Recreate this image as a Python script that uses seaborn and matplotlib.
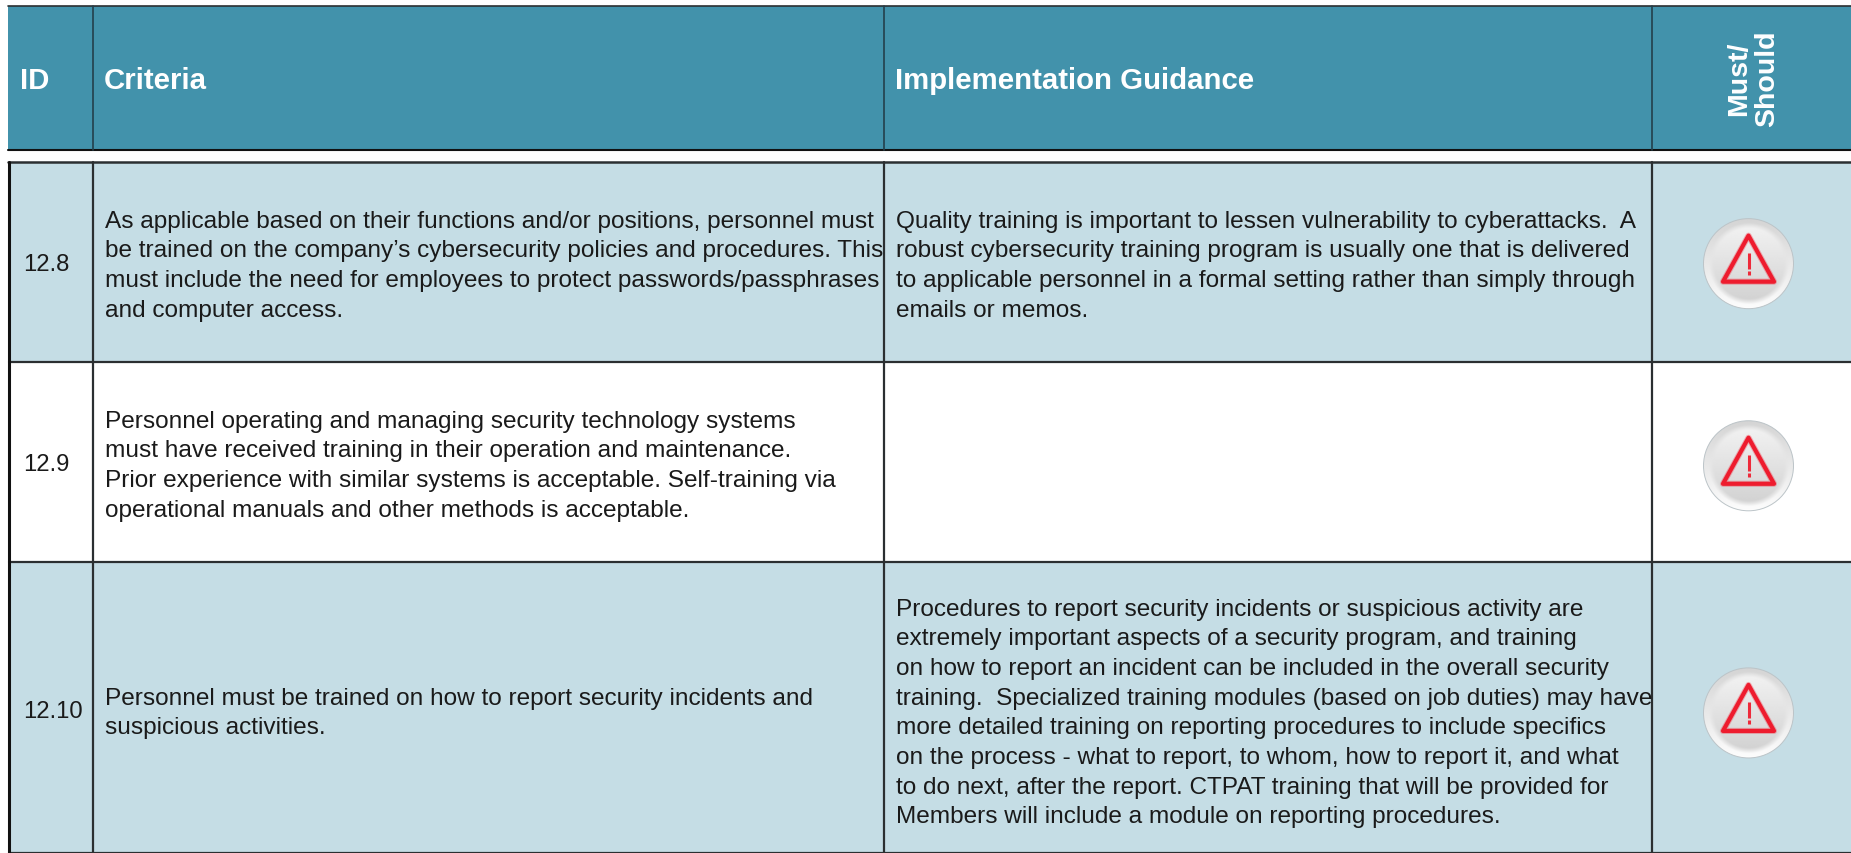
import numpy as np
import matplotlib.pyplot as plt
import matplotlib.patches as mpatches
import seaborn as sns

WIDTH, HEIGHT = 1851, 853

header_labels = ["ID", "Criteria", "Implementation Guidance"]
must_should = "Must/\nShould"
row_ids = ["12.8", "12.9", "12.10"]
criteria = [
    "As applicable based on their functions and/or positions, personnel must\n"
    "be trained on the company’s cybersecurity policies and procedures. This\n"
    "must include the need for employees to protect passwords/passphrases\n"
    "and computer access.",
    "Personnel operating and managing security technology systems\n"
    "must have received training in their operation and maintenance.\n"
    "Prior experience with similar systems is acceptable. Self-training via\n"
    "operational manuals and other methods is acceptable.",
    "Personnel must be trained on how to report security incidents and\n"
    "suspicious activities.",
]
guidance = [
    "Quality training is important to lessen vulnerability to cyberattacks.  A\n"
    "robust cybersecurity training program is usually one that is delivered\n"
    "to applicable personnel in a formal setting rather than simply through\n"
    "emails or memos.",
    "",
    "Procedures to report security incidents or suspicious activity are\n"
    "extremely important aspects of a security program, and training\n"
    "on how to report an incident can be included in the overall security\n"
    "training.  Specialized training modules (based on job duties) may have\n"
    "more detailed training on reporting procedures to include specifics\n"
    "on the process - what to report, to whom, how to report it, and what\n"
    "to do next, after the report. CTPAT training that will be provided for\n"
    "Members will include a module on reporting procedures.",
]

# table layout in pixels
col_edges = [9, 92.5, 883.5, 1651.5, 1851]
head_top, head_bottom = 6, 150
row_edges = [162, 362, 562, 853]
text_y = [266, 466, 713]
icon_y = [264, 466, 713]
row_colors = ["#c5dde5", "#ffffff", "#c5dde5"]
head_color = "#4292ab"
line_color = "#2b2f31"

sns.set_theme(style="white")
plt.rcParams["font.family"] = ["Liberation Sans", "DejaVu Sans"]

fig = plt.figure(figsize=(WIDTH / 100, (HEIGHT + 0.5) / 100), dpi=100)
ax = fig.add_axes([0, 0, 1, 1])
ax.set_xlim(0, WIDTH)
ax.set_ylim(HEIGHT, 0)
ax.axis("off")


def draw_icon(ax, cx, cy):
    # round button: rim lit from below, inner disc lit from above
    r = 45
    yy, xx = np.mgrid[-1:1:200j, -1:1:200j]
    t = (yy + 1) / 2
    rim = 0.83 + 0.16 * t
    disc = 0.96 - 0.15 * t
    # blend the two so there is no hard ring between them
    blend = np.clip((np.hypot(xx, yy) - 0.78) / 0.12, 0, 1)
    grad = disc * (1 - blend) + rim * blend
    im = ax.imshow(grad, cmap="gray", vmin=0, vmax=1, zorder=4, aspect="auto", interpolation="bilinear",
                   extent=[cx - r, cx + r, cy + r, cy - r])
    edge = mpatches.Circle((cx, cy), r, facecolor="none", edgecolor="#bcc4c8", lw=0.7, zorder=5)
    ax.add_patch(edge)
    im.set_clip_path(edge)
    corners = [[cx, cy - 28], [cx - 25.5, cy + 18], [cx + 25.5, cy + 18]]
    # faint wide stroke under the main one for the soft look of the icon
    ax.add_patch(mpatches.Polygon(corners, closed=True, facecolor="none", edgecolor="#ee1c2e", alpha=0.3,
                                  lw=4.4, joinstyle="round", zorder=6))
    ax.add_patch(mpatches.Polygon(corners, closed=True, facecolor="none", edgecolor="#ee1c2e",
                                  lw=3, joinstyle="round", zorder=6))
    ax.plot([cx, cx], [cy - 11, cy + 5], color="#ee2a3a", lw=2.2, solid_capstyle="butt", zorder=6)
    ax.plot([cx, cx], [cy + 7.5, cy + 11], color="#ee2a3a", lw=2.2, solid_capstyle="butt", zorder=6)


# header band
ax.fill_between([col_edges[0] - 1, WIDTH], head_top, head_bottom, color=head_color, lw=0, zorder=1)
ax.plot([col_edges[0] - 1, WIDTH], [head_top, head_top], color=line_color, lw=1.2, zorder=2)
ax.plot([col_edges[0] - 1, WIDTH], [head_bottom, head_bottom], color="#111111", lw=1.5, zorder=2)
for x in col_edges[1:4]:
    ax.plot([x, x], [head_top, head_bottom], color="#23404c", lw=1.2, zorder=2)
for x, label in zip([20, 104, 895], header_labels):
    ax.text(x, 81, label, color="white", fontsize=21.2, fontweight="bold", va="center", ha="left", zorder=3)
ax.text(1753, 79, must_should, color="white", fontsize=20.5, fontweight="bold", rotation=90,
        va="center", ha="center", linespacing=1.12, multialignment="center", zorder=3)

# body rows
for i in range(3):
    top, bottom = row_edges[i], row_edges[i + 1]
    ax.fill_between([col_edges[0], WIDTH], top, bottom, color=row_colors[i], lw=0, zorder=1)
    ax.plot([col_edges[0], WIDTH], [bottom, bottom], color=line_color, lw=1.6, zorder=2)
    ax.text(23, text_y[i] - 1, row_ids[i], fontsize=17.2, color="#1a1a1a", va="center", ha="left", zorder=3)
    ax.text(105, text_y[i], criteria[i], fontsize=17.6, color="#1a1a1a", va="center", ha="left",
            linespacing=1.45, zorder=3)
    ax.text(896, text_y[i], guidance[i], fontsize=17.6, color="#1a1a1a", va="center", ha="left",
            linespacing=1.45, zorder=3)
    draw_icon(ax, 1748.5, icon_y[i])

ax.plot([col_edges[0] - 1, WIDTH], [row_edges[0], row_edges[0]], color=line_color, lw=1.8, zorder=2)
ax.plot([col_edges[0], col_edges[0]], [row_edges[0], HEIGHT], color="#111111", lw=2.2, zorder=2)
for x in col_edges[1:4]:
    ax.plot([x, x], [row_edges[0], HEIGHT], color=line_color, lw=1.6, zorder=2)

ax.set_xlim(0, WIDTH)
ax.set_ylim(HEIGHT, 0)
fig.savefig("out.png", dpi=100, facecolor="white")
